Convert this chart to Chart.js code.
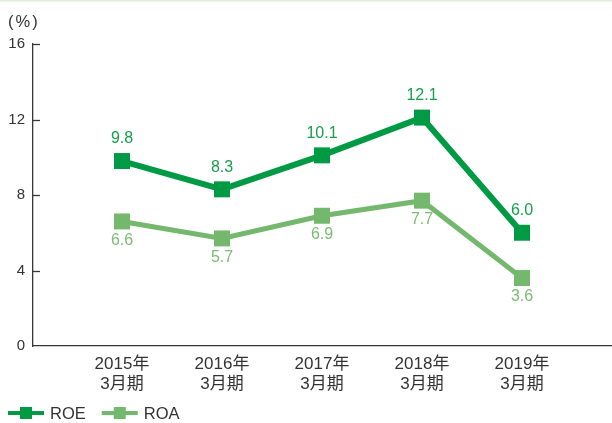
<!DOCTYPE html>
<html>
<head>
<meta charset="utf-8">
<script src="https://cdn.jsdelivr.net/npm/chart.js@4/dist/chart.umd.min.js"></script>
<style>
  html, body { margin: 0; padding: 0; background: #fff; }
  #wrap { width: 612px; height: 423px; }
</style>
</head>
<body>
<div id="wrap"><canvas id="roeChart" width="612" height="423"></canvas></div>
<script>
// data
const years = ["2015年", "2016年", "2017年", "2018年", "2019年"];
const period = "3月期";
const roe = [9.8, 8.3, 10.1, 12.1, 6.0];
const roa = [6.6, 5.7, 6.9, 7.7, 3.6];
const yTicks = [0, 4, 8, 12, 16];

const FONT = "'Liberation Sans', Arial, 'Noto Sans CJK JP', sans-serif";
const TEXT = "#333333";
const AXIS = "#3b3735";
const ROE_COLOR = "#009a44";
const ROA_COLOR = "#73b86c";

// background + thin top rule + unit label
const decoPlugin = {
  id: "deco",
  beforeDraw(chart) {
    const c = chart.ctx;
    c.save();
    c.fillStyle = "#fff";
    c.fillRect(0, 0, chart.width, chart.height);
    c.strokeStyle = "#dfeed9";
    c.lineWidth = 1.5;
    c.beginPath();
    c.moveTo(0, 0.75);
    c.lineTo(chart.width, 0.75);
    c.stroke();
    c.fillStyle = TEXT;
    c.font = "16.5px " + FONT;
    c.letterSpacing = "2px";
    c.textBaseline = "middle";
    c.fillText("(%)", 8, 22);
    c.letterSpacing = "0px";
    c.restore();
  },
  afterDraw(chart) {
    // short inward ticks on the y axis
    const y = chart.scales.y;
    const c = chart.ctx;
    c.save();
    c.strokeStyle = AXIS;
    c.lineWidth = 1.3;
    y.ticks.forEach((t) => {
      if (t.value === 0) return;
      const py = Math.round(y.getPixelForValue(t.value)) + 0.5;
      c.beginPath();
      c.moveTo(chart.chartArea.left, py);
      c.lineTo(chart.chartArea.left + 7, py);
      c.stroke();
    });

    // legend (line + square sample)
    let x = 8;
    const ly = 413;
    c.font = "16.5px " + FONT;
    c.textBaseline = "middle";
    chart.data.datasets.forEach((ds) => {
      c.strokeStyle = ds.borderColor;
      c.lineWidth = 4;
      c.beginPath();
      c.moveTo(x, ly);
      c.lineTo(x + 36, ly);
      c.stroke();
      c.fillStyle = ds.borderColor;
      c.fillRect(x + 12, ly - 6, 12, 12);
      c.fillStyle = TEXT;
      c.fillText(ds.label, x + 42, ly + 1);
      x += 42 + c.measureText(ds.label).width + 16;
    });
    c.restore();
  },
  afterDatasetsDraw(chart) {
    // value labels
    const c = chart.ctx;
    c.save();
    c.font = "16px " + FONT;
    c.textAlign = "center";
    c.textBaseline = "middle";
    chart.data.datasets.forEach((ds, i) => {
      const meta = chart.getDatasetMeta(i);
      c.fillStyle = ds.labelColor;
      meta.data.forEach((pt, j) => {
        const v = ds.data[j].y;
        c.fillText(v.toFixed(1), pt.x, pt.y + ds.labelOffset);
      });
    });
    c.restore();
  },
};

const ctx = document.getElementById("roeChart").getContext("2d");
new Chart(ctx, {
  type: "line",
  data: {
    datasets: [
      {
        label: "ROE",
        data: roe.map((v, i) => ({ x: i, y: v })),
        borderColor: ROE_COLOR,
        backgroundColor: ROE_COLOR,
        borderWidth: 6,
        pointStyle: "rect",
        pointRadius: 11.3,
        pointHoverRadius: 11.3,
        pointBorderWidth: 0,
        labelColor: "#16a04c",
        labelOffset: -22,
      },
      {
        label: "ROA",
        data: roa.map((v, i) => ({ x: i, y: v })),
        borderColor: ROA_COLOR,
        backgroundColor: ROA_COLOR,
        borderWidth: 5,
        pointStyle: "rect",
        pointRadius: 11.3,
        pointHoverRadius: 11.3,
        pointBorderWidth: 0,
        labelColor: "#7bbd71",
        labelOffset: 19,
      },
    ],
  },
  options: {
    responsive: false,
    animation: false,
    devicePixelRatio: 1,
    layout: { autoPadding: false, padding: { top: 44, left: 0, right: 1, bottom: 0 } },
    plugins: {
      legend: { display: false },
      title: { display: false },
      tooltip: { enabled: false },
    },
    scales: {
      x: {
        type: "linear",
        min: -0.89,
        max: 4.89,
        afterBuildTicks: (s) => {
          s.ticks = years.map((_, i) => ({ value: i }));
        },
        afterFit: (s) => {
          s.height = 77;
          s.paddingLeft = 0;
          s.paddingRight = 0;
        },
        grid: { display: true, drawOnChartArea: false, drawTicks: false },
        border: { display: true, color: AXIS, width: 1.3 },
        ticks: {
          autoSkip: false,
          maxRotation: 0,
          padding: 8,
          color: TEXT,
          font: { family: FONT, size: 17, lineHeight: 1.18 },
          callback: (v) => [years[v], period],
        },
      },
      y: {
        min: 0,
        max: 16,
        afterBuildTicks: (s) => {
          s.ticks = yTicks.map((v) => ({ value: v }));
        },
        afterFit: (s) => {
          s.width = 33;
          s.paddingTop = 0;
          s.paddingBottom = 0;
        },
        grid: { display: true, drawOnChartArea: false, drawTicks: false },
        border: { display: true, color: AXIS, width: 1.3 },
        ticks: {
          padding: 8,
          color: TEXT,
          font: { family: FONT, size: 15 },
        },
      },
    },
  },
  plugins: [decoPlugin],
});
</script>
</body>
</html>
